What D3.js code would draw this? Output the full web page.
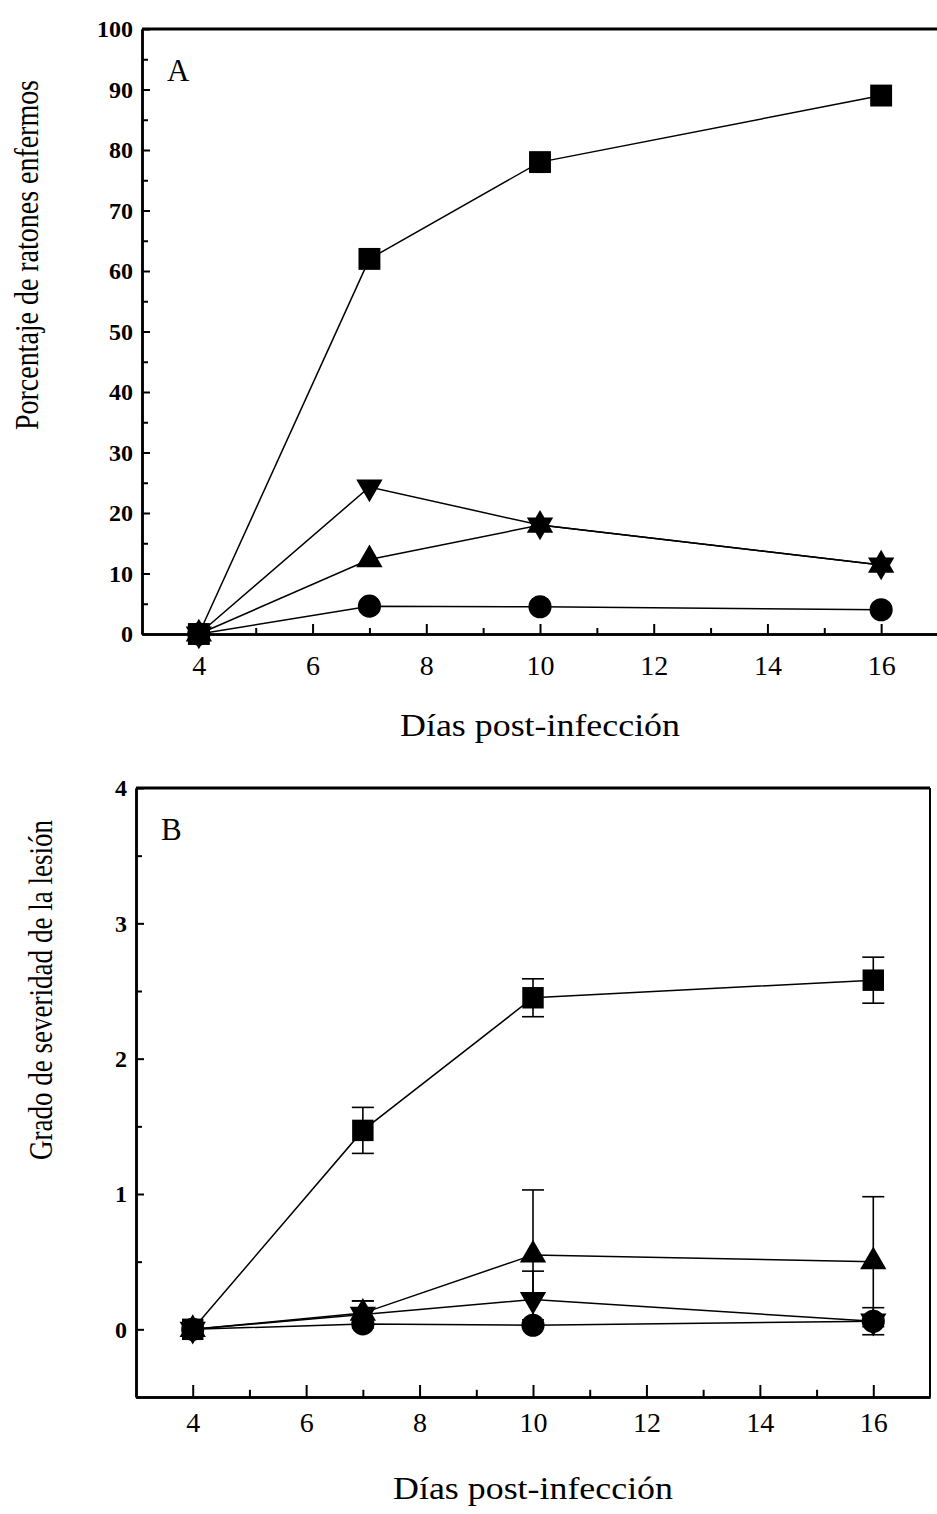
<!DOCTYPE html>
<html>
<head>
<meta charset="utf-8">
<script src="https://cdn.jsdelivr.net/npm/d3@7"></script>
<style>
  body { margin: 0; background: #fff; }
  svg text { font-family: "Liberation Serif", "Times New Roman", serif; fill: #000; }
</style>
</head>
<body>
<div id="chart"></div>
<script>
// days after infection (same for both panels)
var days = [4, 7, 10, 16];
var dayTicks = [4, 6, 8, 10, 12, 14, 16];
var dayMinor = [5, 7, 9, 11, 13, 15];

// panel A: percentage of sick mice
var pctSquare = [0, 62, 78, 89];
var pctUp = [0, 12.3, 18, 11.4];
var pctDown = [0, 24.3, 18, 11.4];
var pctCircle = [0, 4.6, 4.5, 4.0];
var pctTicks = [0, 10, 20, 30, 40, 50, 60, 70, 80, 90, 100];
var pctMinor = [5, 15, 25, 35, 45, 55, 65, 75, 85, 95];

// panel B: lesion severity grade (mean and error)
var sevSquare = [0, 1.47, 2.45, 2.58];
var sevSquareErr = [0, 0.17, 0.14, 0.17];
var sevUp = [0, 0.12, 0.55, 0.50];
var sevUpErr = [0, 0.09, 0.48, 0.48];
var sevDown = [0, 0.11, 0.22, 0.06];
var sevDownErr = [0, 0.10, 0.21, 0.10];
var sevCircle = [0, 0.04, 0.03, 0.06];
var sevTicks = [0, 1, 2, 3, 4];
var sevMinor = [-0.5, 0.5, 1.5, 2.5, 3.5];

var xLabel = "Días post-infección";

var svgWidth = 937;
var svgHeight = 1514;

var svg = d3.select("#chart")
  .append("svg")
  .attr("width", svgWidth)
  .attr("height", svgHeight);

function drawPanel(p) {
  var x = d3.scaleLinear().domain([3, 17]).range([p.left, p.right]);
  var y = d3.scaleLinear().domain(p.yDomain).range([p.bottom, p.top]);
  var g = svg.append("g");

  // frame: top + right
  g.append("line")
    .attr("x1", p.left).attr("x2", p.right)
    .attr("y1", p.top).attr("y2", p.top)
    .attr("stroke", "#000").attr("stroke-width", 3);
  g.append("line")
    .attr("x1", p.right).attr("x2", p.right)
    .attr("y1", p.top).attr("y2", p.bottom)
    .attr("stroke", "#000").attr("stroke-width", p.rightWidth);

  // left axis, ticks pointing inside
  var yMajor = g.append("g")
    .attr("transform", "translate(" + p.left + ",0)")
    .call(d3.axisLeft(y).tickValues(p.yTicks).tickSize(-8).tickSizeOuter(0)
      .tickPadding(9).tickFormat(d3.format("d")));
  g.append("g")
    .attr("transform", "translate(" + p.left + ",0)")
    .call(d3.axisLeft(y).tickValues(p.yMinor).tickSize(-6).tickSizeOuter(0).tickFormat(""));
  yMajor.selectAll("text")
    .style("font-size", p.yTickSize + "px")
    .style("font-weight", "bold");

  // bottom axis
  var xMajor = g.append("g")
    .attr("transform", "translate(0," + p.bottom + ")")
    .call(d3.axisBottom(x).tickValues(dayTicks).tickSize(-p.xTickLen).tickSizeOuter(0).tickPadding(p.xPad));
  g.append("g")
    .attr("transform", "translate(0," + p.bottom + ")")
    .call(d3.axisBottom(x).tickValues(dayMinor).tickSize(-p.xTickLen * 0.6).tickSizeOuter(0).tickFormat(""));
  xMajor.selectAll("text").style("font-size", "28px");

  g.selectAll(".domain").attr("stroke-width", 2.5);
  g.selectAll(".tick line").attr("stroke-width", 2);

  // series lines
  var line = d3.line()
    .x(function(d) { return x(d.day); })
    .y(function(d) { return y(d.value); });

  p.series.forEach(function(s) {
    var pts = days.map(function(d, i) {
      return { day: d, value: s.values[i], err: s.errors ? s.errors[i] : 0 };
    });
    s.pts = pts;
    g.append("path")
      .datum(pts)
      .attr("fill", "none")
      .attr("stroke", "#000")
      .attr("stroke-width", 1.5)
      .attr("d", line);
  });

  // error bars behind the markers
  p.series.forEach(function(s) {
    var withErr = s.pts.filter(function(d) { return d.err > 0; });
    var eb = g.selectAll(null).data(withErr).enter().append("g")
      .attr("stroke", "#000").attr("stroke-width", 1.6);
    eb.append("line")
      .attr("x1", function(d) { return x(d.day); })
      .attr("x2", function(d) { return x(d.day); })
      .attr("y1", function(d) { return y(d.value - d.err); })
      .attr("y2", function(d) { return y(d.value + d.err); });
    eb.append("line")
      .attr("x1", function(d) { return x(d.day) - 11; })
      .attr("x2", function(d) { return x(d.day) + 11; })
      .attr("y1", function(d) { return y(d.value + d.err); })
      .attr("y2", function(d) { return y(d.value + d.err); });
    eb.append("line")
      .attr("x1", function(d) { return x(d.day) - 11; })
      .attr("x2", function(d) { return x(d.day) + 11; })
      .attr("y1", function(d) { return y(d.value - d.err); })
      .attr("y2", function(d) { return y(d.value - d.err); });
  });

  // markers
  p.series.forEach(function(s) {
    g.selectAll(null).data(s.pts).enter().append("path")
      .attr("d", d3.symbol().type(s.shape).size(s.size))
      .attr("transform", function(d) {
        return "translate(" + x(d.day) + "," + y(d.value) + ")" + (s.flip ? " rotate(180)" : "");
      })
      .attr("fill", "#000");
  });

  // panel letter
  g.append("text")
    .attr("x", p.left + 25)
    .attr("y", p.top + 52)
    .style("font-size", "31px")
    .text(p.letter);

  // axis titles
  g.append("text")
    .attr("x", (p.left + p.right) / 2)
    .attr("y", p.xTitleY)
    .attr("text-anchor", "middle")
    .attr("textLength", 280)
    .attr("lengthAdjust", "spacingAndGlyphs")
    .style("font-size", "32px")
    .text(xLabel);

  g.append("text")
    .attr("transform", "translate(" + p.yTitleX + "," + p.yTitleY + ") rotate(-90)")
    .attr("text-anchor", "middle")
    .attr("textLength", p.yTitleLen)
    .attr("lengthAdjust", "spacingAndGlyphs")
    .style("font-size", "33px")
    .text(p.yTitle);
}

var sq = d3.symbolSquare, tri = d3.symbolTriangle, circ = d3.symbolCircle;

drawPanel({
  letter: "A",
  left: 142, right: 938, top: 29, bottom: 634,
  yDomain: [0, 100], yTicks: pctTicks, yMinor: pctMinor, yTickSize: 24,
  xTickLen: 10, xPad: 21, rightWidth: 1,
  xTitleY: 736, yTitleX: 38, yTitleY: 255, yTitleLen: 350,
  yTitle: "Porcentaje de ratones enfermos",
  series: [
    { values: pctCircle, shape: circ, size: 420 },
    { values: pctUp, shape: tri, size: 300 },
    { values: pctDown, shape: tri, size: 300, flip: true },
    { values: pctSquare, shape: sq, size: 480 }
  ]
});

drawPanel({
  letter: "B",
  left: 136, right: 930, top: 788, bottom: 1397,
  yDomain: [-0.5, 4], yTicks: sevTicks, yMinor: sevMinor, yTickSize: 24,
  xTickLen: 12, xPad: 15, rightWidth: 2,
  xTitleY: 1499, yTitleX: 52, yTitleY: 990, yTitleLen: 340,
  yTitle: "Grado de severidad de la lesión",
  series: [
    { values: sevCircle, shape: circ, size: 420 },
    { values: sevUp, errors: sevUpErr, shape: tri, size: 300 },
    { values: sevDown, errors: sevDownErr, shape: tri, size: 300, flip: true },
    { values: sevSquare, errors: sevSquareErr, shape: sq, size: 460 }
  ]
});
</script>
</body>
</html>
